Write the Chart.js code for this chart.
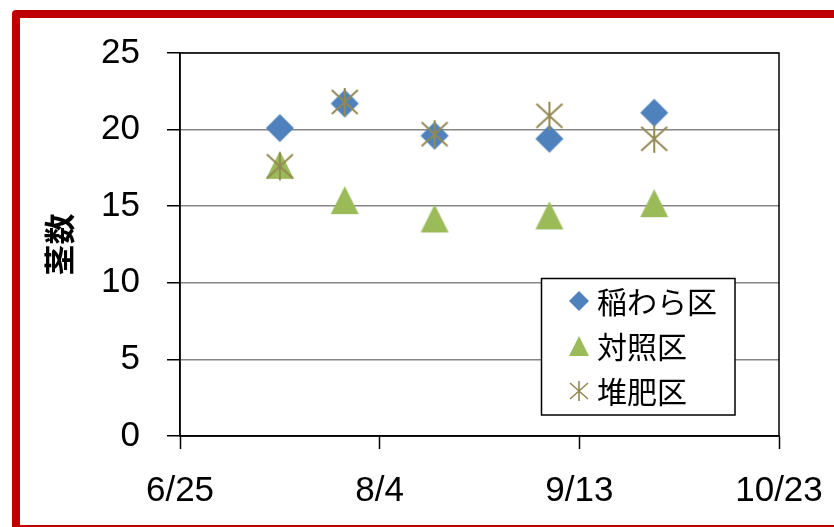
<!DOCTYPE html>
<html>
<head>
<meta charset="utf-8">
<title>茎数</title>
<script src="https://cdn.jsdelivr.net/npm/chart.js@4.4.1/dist/chart.umd.min.js"></script>
<style>
  html, body { margin: 0; padding: 0; background: #fff; overflow: hidden; }
  #wrap { position: relative; width: 834px; height: 527px; overflow: hidden; }
  #frame {
    position: absolute; left: 12px; top: 10px;
    width: 900px; height: 507px;
    border: 8px solid #C00000; border-radius: 4px;
  }
  #myChart { position: absolute; left: 0; top: 0; }
</style>
</head>
<body>
<div id="wrap">
  <div id="frame"></div>
  <canvas id="myChart" width="834" height="527"></canvas>
</div>
<script>
//DATA
var dates = ['7/15', '7/28', '8/15', '9/7', '9/28'];
var inawara = [20.1, 21.7, 19.6, 19.4, 21.1];
var taisho = [17.7, 15.4, 14.2, 14.4, 15.2];
var taihi = [17.6, 21.8, 19.7, 20.9, 19.4];
var seriesNames = ['稲わら区', '対照区', '堆肥区'];
var xTickLabels = ['6/25', '8/4', '9/13', '10/23'];
var yTitle = '茎数';

// days since 6/25
function dayOf(md) {
  var p = md.split('/');
  return (Date.UTC(2010, p[0] - 1, +p[1]) - Date.UTC(2010, 5, 25)) / 86400000;
}

function points(vals) {
  return vals.map(function (v, i) { return { x: dayOf(dates[i]), y: v }; });
}

//MARKERS
function marker(kind, size) {
  var c = document.createElement('canvas');
  c.width = size + 2;
  c.height = size + 2;
  var g = c.getContext('2d');
  var m = 1, s = size, h = size / 2 + 1;
  if (kind == 'diamond') {
    g.fillStyle = '#4F81BD';
    g.beginPath();
    g.moveTo(h, m); g.lineTo(m + s, h); g.lineTo(h, m + s); g.lineTo(m, h);
    g.closePath();
    g.fill();
  } else if (kind == 'triangle') {
    g.fillStyle = '#9BBB59';
    g.beginPath();
    g.moveTo(h, m); g.lineTo(m + s, m + s); g.lineTo(m, m + s);
    g.closePath();
    g.fill();
  } else {
    g.strokeStyle = '#938953';
    g.lineWidth = size > 24 ? 2 : 1.6;
    g.beginPath();
    g.moveTo(h, m); g.lineTo(h, m + s);
    g.moveTo(m + 1, m + 2); g.lineTo(m + s - 1, m + s - 2);
    g.moveTo(m + s - 1, m + 2); g.lineTo(m + 1, m + s - 2);
    g.stroke();
  }
  return c;
}

var bigMarkers = [marker('diamond', 28), marker('triangle', 28), marker('star', 28)];
var smallMarkers = [marker('diamond', 20), marker('triangle', 20), marker('star', 20)];

//PLUGINS
var plotBox = {
  id: 'plotBox',
  beforeDatasetsDraw: function (chart) {
    var a = chart.chartArea, ctx = chart.ctx;
    ctx.save();
    ctx.strokeStyle = '#000';
    ctx.lineWidth = 1.5;
    ctx.strokeRect(a.left, a.top, a.right - a.left, a.bottom - a.top);
    ctx.restore();
  }
};

var boxLegend = {
  id: 'boxLegend',
  afterDatasetsDraw: function (chart) {
    var ctx = chart.ctx;
    var bx = 541.5, by = 278.5, bw = 193.5, bh = 136.5;
    ctx.save();
    ctx.fillStyle = '#fff';
    ctx.fillRect(bx, by, bw, bh);
    ctx.strokeStyle = '#000';
    ctx.lineWidth = 1.5;
    ctx.strokeRect(bx, by, bw, bh);
    ctx.font = '30px "Noto Sans CJK JP"';
    ctx.fillStyle = '#000';
    ctx.textBaseline = 'middle';
    seriesNames.forEach(function (name, i) {
      var cy = 301 + i * 45;
      var m = smallMarkers[i];
      ctx.drawImage(m, 579 - m.width / 2, cy - m.height / 2);
      ctx.fillText(name, 597, cy + 1);
    });
    ctx.restore();
  }
};

//CHART
var ctx = document.getElementById('myChart');
var tickFont = { family: '"Liberation Sans", Arial, sans-serif', size: 35 };
var myChart = new Chart(ctx, {
  type: 'scatter',
  data: {
    datasets: [
      { label: seriesNames[0], data: points(inawara), pointStyle: bigMarkers[0], order: 2 },
      { label: seriesNames[1], data: points(taisho), pointStyle: bigMarkers[1], order: 1 },
      { label: seriesNames[2], data: points(taihi), pointStyle: bigMarkers[2], order: 0 }
    ]
  },
  options: {
    responsive: false,
    animation: false,
    layout: { padding: { left: 0, right: 55, top: 53, bottom: 0 } },
    plugins: {
      legend: { display: false },
      tooltip: { enabled: false }
    },
    scales: {
      x: {
        type: 'linear',
        min: dayOf(xTickLabels[0]),
        max: dayOf(xTickLabels[xTickLabels.length - 1]),
        afterBuildTicks: function (scale) {
          scale.ticks = xTickLabels.map(function (l) { return { value: dayOf(l) }; });
        },
        afterFit: function (scale) {
          scale.height = 91;
          scale.paddingLeft = 0;
          scale.paddingRight = 0;
        },
        grid: { drawOnChartArea: false, tickLength: 13, tickColor: '#000', tickWidth: 1.5 },
        border: { color: '#000', width: 1.5 },
        ticks: {
          autoSkip: false,
          maxRotation: 0,
          padding: 21,
          color: '#000',
          font: tickFont,
          callback: function (v) {
            var i = xTickLabels.findIndex(function (l) { return dayOf(l) === v; });
            return i >= 0 ? xTickLabels[i] : '';
          }
        }
      },
      y: {
        min: 0,
        max: 25,
        afterFit: function (scale) {
          scale.width = 180;
          scale.paddingTop = 0;
          scale.paddingBottom = 0;
        },
        grid: { color: '#868686', lineWidth: 1.5, tickLength: 13, tickColor: '#000', tickWidth: 1.5 },
        border: { color: '#000', width: 1.5 },
        ticks: { stepSize: 5, padding: 27, color: '#000', font: tickFont },
        title: {
          display: true,
          text: yTitle,
          color: '#000',
          font: { family: '"Noto Sans CJK JP"', size: 31, weight: 'bold' },
          padding: { top: 41, bottom: 0 }
        }
      }
    }
  },
  plugins: [plotBox, boxLegend]
});
</script>
</body>
</html>
